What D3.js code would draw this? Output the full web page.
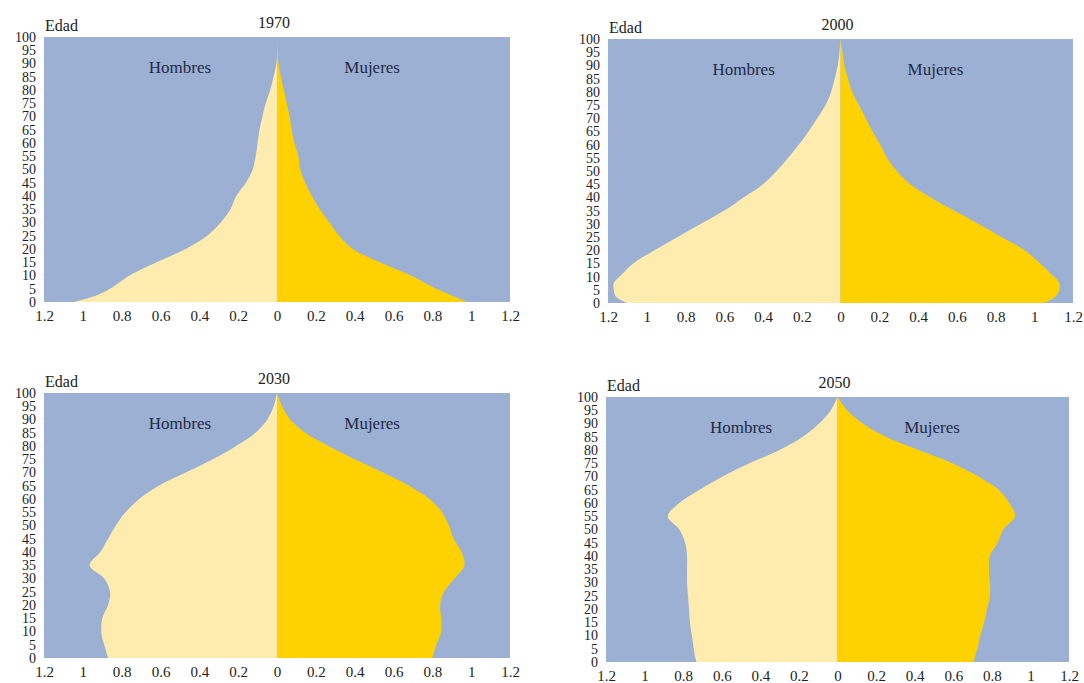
<!DOCTYPE html>
<html>
<head>
<meta charset="utf-8">
<script src="https://cdn.jsdelivr.net/npm/d3@7"></script>
<style>
    body { margin: 0; background: #fff; }
</style>
</head>
<body>
<svg id="chart" width="1084" height="683"></svg>
<script>
// age points shared by every pyramid
const AGES = [0, 2.5, 5, 7.5, 10, 15, 20, 25, 30, 35, 40, 45, 50, 55, 60, 65, 70, 75, 80, 85, 90, 95, 100];

const men1970   = [1.05, 0.93, 0.86, 0.81, 0.76, 0.62, 0.47, 0.36, 0.29, 0.24, 0.21, 0.16, 0.125, 0.11, 0.10, 0.09, 0.075, 0.058, 0.035, 0.018, 0.003, 0, 0];
const women1970 = [0.98, 0.90, 0.82, 0.755, 0.69, 0.53, 0.39, 0.32, 0.27, 0.22, 0.18, 0.145, 0.12, 0.11, 0.09, 0.075, 0.065, 0.05, 0.035, 0.02, 0.008, 0.002, 0];

const men2000   = [1.10, 1.16, 1.17, 1.17, 1.14, 1.07, 0.96, 0.84, 0.72, 0.60, 0.50, 0.40, 0.33, 0.27, 0.215, 0.165, 0.12, 0.077, 0.048, 0.03, 0.014, 0.005, 0];
const women2000 = [1.05, 1.11, 1.13, 1.13, 1.10, 1.03, 0.95, 0.83, 0.71, 0.585, 0.465, 0.36, 0.29, 0.24, 0.205, 0.165, 0.13, 0.095, 0.06, 0.038, 0.02, 0.01, 0];

const men2030   = [0.87, 0.88, 0.89, 0.90, 0.905, 0.90, 0.87, 0.86, 0.89, 0.965, 0.91, 0.87, 0.83, 0.78, 0.71, 0.61, 0.47, 0.33, 0.21, 0.11, 0.05, 0.017, 0];
const women2030 = [0.80, 0.81, 0.82, 0.835, 0.845, 0.845, 0.84, 0.86, 0.915, 0.965, 0.95, 0.91, 0.885, 0.85, 0.785, 0.68, 0.545, 0.40, 0.265, 0.145, 0.068, 0.026, 0];

const men2050   = [0.73, 0.74, 0.745, 0.75, 0.755, 0.765, 0.77, 0.775, 0.78, 0.78, 0.78, 0.79, 0.82, 0.88, 0.82, 0.715, 0.595, 0.457, 0.30, 0.18, 0.095, 0.035, 0];
const women2050 = [0.705, 0.715, 0.725, 0.733, 0.74, 0.76, 0.775, 0.79, 0.79, 0.785, 0.79, 0.83, 0.86, 0.92, 0.89, 0.835, 0.73, 0.595, 0.42, 0.25, 0.13, 0.05, 0];

const YEARS = ['1970', '2000', '2030', '2050'];
const X_TICKS = [-1.2, -1, -0.8, -0.6, -0.4, -0.2, 0, 0.2, 0.4, 0.6, 0.8, 1, 1.2];
const Y_TICKS = d3.range(0, 101, 5);

const BLUE = '#9cb0d3';
const LIGHT = '#fdecae';
const GOLD = '#fed200';
const INK = '#1f2a44';
const FONT = '"Liberation Serif", "DejaVu Serif", "Noto Serif", serif';

// plot boxes [left, top, right, bottom]
const panels = [
    { year: YEARS[0], men: men1970, women: women1970, box: [44, 37, 510, 302] },
    { year: YEARS[1], men: men2000, women: women2000, box: [608, 39, 1073, 303] },
    { year: YEARS[2], men: men2030, women: women2030, box: [44, 393, 510, 658] },
    { year: YEARS[3], men: men2050, women: women2050, box: [606, 397, 1069, 662] },
];

const svg = d3.select('#chart').style('font-family', FONT);

panels.forEach(p => {
    const [left, top, right, bottom] = p.box;
    const x = d3.scaleLinear().domain([-1.2, 1.2]).range([left, right]);
    const y = d3.scaleLinear().domain([0, 100]).range([bottom, top]);
    const g = svg.append('g');

    g.append('rect')
        .attr('x', left).attr('y', top)
        .attr('width', right - left).attr('height', bottom - top)
        .attr('fill', BLUE);

    const curve = d3.curveCatmullRom.alpha(0.5);
    const menArea = d3.area()
        .y((d, i) => y(AGES[i]))
        .x0(x(0))
        .x1(d => x(-d))
        .curve(curve);
    const womenArea = d3.area()
        .y((d, i) => y(AGES[i]))
        .x0(x(0))
        .x1(d => x(d))
        .curve(curve);

    g.append('path').datum(p.men).attr('d', menArea).attr('fill', LIGHT);
    g.append('path').datum(p.women).attr('d', womenArea).attr('fill', GOLD);

    // axes without lines, labels only
    const xAxis = g.append('g')
        .attr('transform', `translate(0,${bottom + 5})`)
        .call(d3.axisBottom(x).tickValues(X_TICKS).tickSize(0).tickFormat(d => d3.format('')(Math.abs(+d.toFixed(1)))));
    xAxis.select('.domain').remove();
    xAxis.attr('font-family', null);
    xAxis.selectAll('text').attr('font-size', 15).attr('fill', '#222');

    const yAxis = g.append('g')
        .attr('transform', `translate(${left - 8},0)`)
        .call(d3.axisLeft(y).tickValues(Y_TICKS).tickSize(0).tickPadding(0));
    yAxis.select('.domain').remove();
    yAxis.attr('font-family', null);
    yAxis.selectAll('text').attr('font-size', 14).attr('fill', '#222');

    g.append('text')
        .attr('x', left + 1).attr('y', top - 6)
        .attr('font-size', 16).attr('fill', '#222')
        .text('Edad');

    g.append('text')
        .attr('x', x(0) - 3).attr('y', top - 9)
        .attr('text-anchor', 'middle')
        .attr('font-size', 16).attr('fill', '#222')
        .text(p.year);

    g.append('text')
        .attr('x', x(-0.5)).attr('y', top + 36)
        .attr('text-anchor', 'middle')
        .attr('font-size', 17).attr('fill', INK)
        .text('Hombres');

    g.append('text')
        .attr('x', x(0.49)).attr('y', top + 36)
        .attr('text-anchor', 'middle')
        .attr('font-size', 17).attr('fill', INK)
        .text('Mujeres');
});
</script>
</body>
</html>
